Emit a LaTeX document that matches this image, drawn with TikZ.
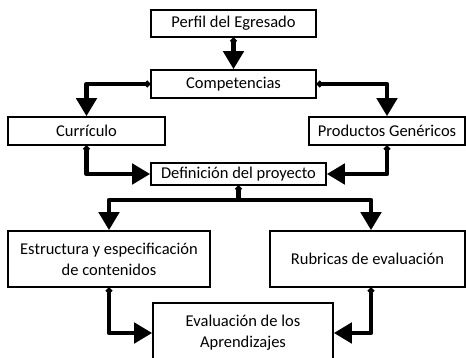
\documentclass[tikz,border=0pt]{standalone}
\usepackage{fontspec}
\setmainfont{Carlito}
\usetikzlibrary{arrows.meta,positioning}

\tikzset{
    caja/.style={draw,line width=1.6pt,inner sep=0pt,align=center,font=\fontsize{16.5}{21}\selectfont},
    flecha/.style={line width=4.5pt,line cap=round,line join=round,{Circle[length=6pt]}-{Triangle[width=20pt,length=18pt]}}
}

\begin{document}
\begin{tikzpicture}[x=1pt,y=-1pt]
        \useasboundingbox (0,0) rectangle (466,358);
        % cajas
        \node[caja,minimum width=165,minimum height=27] (perfil) at (233.5,23.5) {Perfil del Egresado};
        \node[caja,minimum width=165,minimum height=28] (comp) at (233.5,84) {Competencias};
        \node[caja,minimum width=157,minimum height=28] (curr) at (86.5,131) {Currículo};
        \node[caja,minimum width=156,minimum height=28] (prod) at (387,131) {Productos Genéricos};
        \node[caja,minimum width=175,minimum height=22] (defi) at (238.5,174) {Definición del proyecto};
        \node[caja,minimum width=202,minimum height=56] (estr) at (109,259) {Estructura y especificación\\de contenidos};
        \node[caja,minimum width=195,minimum height=56] (rubr) at (367.5,259) {Rubricas de evaluación};
        \node[caja,minimum width=180,minimum height=60] (eval) at (243,333) {Evaluación de los\\Aprendizajes};
        \coordinate (split) at (238.5,200);
        % flechas
        \draw[flecha] (perfil.south) -- (comp.north);
        \draw[flecha] (comp.west) -| (curr.north);
        \draw[flecha] (comp.east) -| (prod.north);
        \draw[flecha] (curr.south) |- (defi.west);
        \draw[flecha] (prod.south) |- (defi.east);
        \draw[flecha] (defi.south) -- (split) -| (estr.north);
        \draw[flecha,-{Triangle[width=20pt,length=18pt]}] (split) -| ([xshift=3.5]rubr.north);
        \draw[flecha] (estr.south) |- (eval.west);
        \draw[flecha] ([xshift=3.5]rubr.south) |- (eval.east);
\end{tikzpicture}
\end{document}
